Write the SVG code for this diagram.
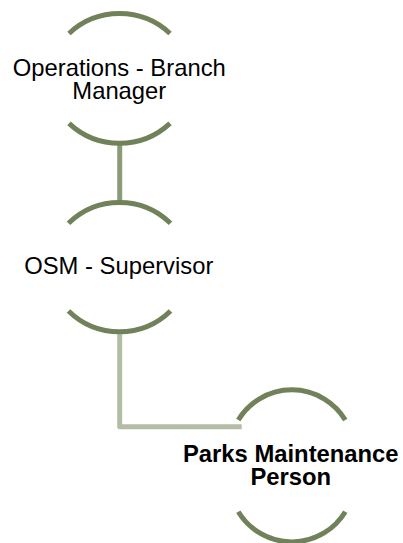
<svg xmlns="http://www.w3.org/2000/svg" width="403" height="543" viewBox="0 0 403 543">
<style>
.arc{fill:none;stroke:#71825a;stroke-width:5}
.c1{fill:none;stroke:#8c9b77;stroke-width:5}
.c2{fill:none;stroke:#b3bda5;stroke-width:5;stroke-linejoin:round}
.t{font-family:"Liberation Sans",Arial,sans-serif;font-size:23.8px;fill:#000;text-anchor:middle}
.b{font-weight:bold}
</style>
<rect width="403" height="543" fill="#fff"/>
<g id="connectors">
<path class="c1" d="M119.7,143 V202"/>
<path class="c2" d="M119.7,333 V426.7 H241.7"/>
</g>
<g id="node-branch-manager">
<path class="arc" d="M69,33.5 A74,74 0 0 1 170,33.5"/>
<path class="arc" d="M69,123.3 A74,74 0 0 0 170,123.3"/>
<text class="t" x="119.3" y="75.5">Operations - Branch</text>
<text class="t" x="119.3" y="98.5">Manager</text>
</g>
<g id="node-osm-supervisor">
<path class="arc" d="M68.5,223.3 A73,73 0 0 1 170.5,223.3"/>
<path class="arc" d="M68.5,311 A73,73 0 0 0 170.5,311"/>
<text class="t" x="118.8" y="274">OSM - Supervisor</text>
</g>
<g id="node-parks-maintenance">
<path class="arc" d="M238.3,420 A62.5,62.5 0 0 1 345.3,420"/>
<path class="arc" d="M238.3,511.7 A62.5,62.5 0 0 0 345.3,511.7"/>
<text class="t b" x="290.8" y="461.7">Parks Maintenance</text>
<text class="t b" x="290.8" y="485">Person</text>
</g>
</svg>
